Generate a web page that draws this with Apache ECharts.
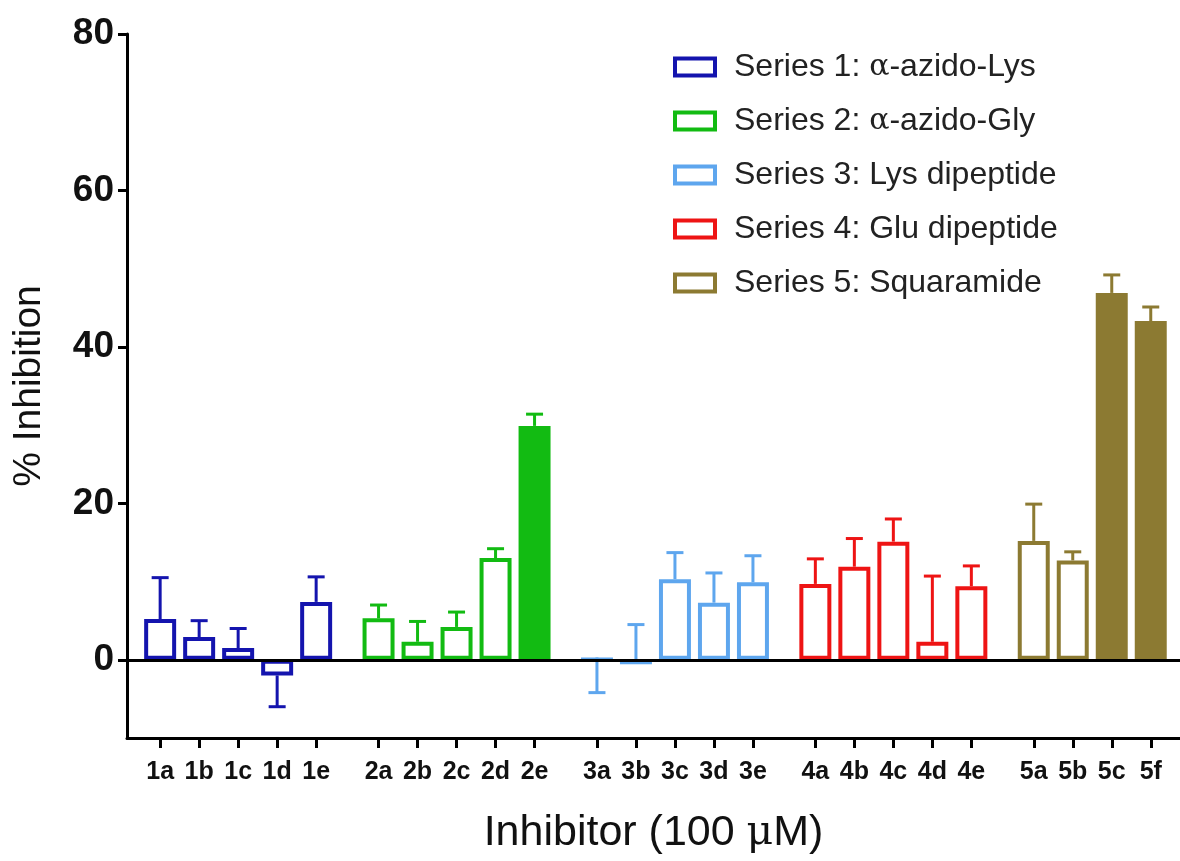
<!DOCTYPE html>
<html>
<head>
<meta charset="utf-8">
<script src="https://cdn.jsdelivr.net/npm/echarts@6/dist/echarts.min.js"></script>
<style>
    html, body {margin: 0; padding: 0; background: #fff;}
    #chart {width: 1180px; height: 861px;}
</style>
</head>
<body>
<div id="chart"></div>
<script>
// 数据
const seriesNames = ['Series 1: α-azido-Lys', 'Series 2: α-azido-Gly', 'Series 3: Lys dipeptide', 'Series 4: Glu dipeptide', 'Series 5: Squaramide'];
const labels = [
    ['1a', '1b', '1c', '1d', '1e'],
    ['2a', '2b', '2c', '2d', '2e'],
    ['3a', '3b', '3c', '3d', '3e'],
    ['4a', '4b', '4c', '4d', '4e'],
    ['5a', '5b', '5c', '5f']
];
const means = [
    [5.2, 2.9, 1.5, -2.0, 7.4],
    [5.3, 2.3, 4.2, 13.0, 29.9],
    [0.3, -0.3, 10.3, 7.3, 9.9],
    [9.7, 11.9, 15.1, 2.3, 9.4],
    [15.2, 12.7, 46.9, 43.3]
];
// 误差线端点
const errEnds = [
    [10.5, 5.0, 4.0, -6.0, 10.6],
    [7.0, 4.9, 6.1, 14.2, 31.4],
    [-4.2, 4.5, 13.7, 11.1, 13.3],
    [12.9, 15.5, 18.0, 10.7, 12.0],
    [19.9, 13.8, 49.2, 45.1]
];
const filled = [
    [0, 0, 0, 0, 0],
    [0, 0, 0, 0, 1],
    [0, 0, 0, 0, 0],
    [0, 0, 0, 0, 0],
    [0, 0, 1, 1]
];
const yTicks = [0, 20, 40, 60, 80];

const colors = ['#1414ae', '#12bb12', '#5ea6ee', '#ee1414', '#8c7a32'];
const groupStep = 5.6; // 组间距
const font = 'Liberation Sans, Arial, sans-serif';

let labelMap = {};
let xTicks = [];
labels.forEach((g, gi) => {
    g.forEach((name, i) => {
        let pos = gi * groupStep + i;
        labelMap[pos.toFixed(2)] = name;
        xTicks.push(pos);
    });
});

function renderBar(params, api) {
    let pos = api.value(0), val = api.value(1), err = api.value(2), fill = api.value(3);
    let color = api.visual('color');
    let c0 = api.coord([pos, 0]);
    let c1 = api.coord([pos, val]);
    let cE = api.coord([pos, err]);
    let half = api.size([0.41, 0])[0];
    let cap = 8.5;
    let children = [];
    // 误差线
    children.push({
        type: 'line',
        shape: {x1: c1[0], y1: c1[1], x2: cE[0], y2: cE[1]},
        style: {stroke: color, lineWidth: 3}
    });
    children.push({
        type: 'line',
        shape: {x1: cE[0] - cap, y1: cE[1], x2: cE[0] + cap, y2: cE[1]},
        style: {stroke: color, lineWidth: 3}
    });
    let top = Math.min(c0[1], c1[1]), bot = Math.max(c0[1], c1[1]);
    if (fill) {
        children.push({
            type: 'rect',
            shape: {x: c1[0] - half, y: top, width: half * 2, height: bot - top},
            style: {fill: color}
        });
    } else {
        let h = Math.max(bot - top - 4, 0.5);
        children.push({
            type: 'rect',
            shape: {x: c1[0] - half + 2, y: top + 2, width: half * 2 - 4, height: h},
            style: {fill: '#fff', stroke: color, lineWidth: 4}
        });
    }
    return {type: 'group', children: children};
}

let series = labels.map((g, gi) => {
    let data = g.map((name, i) => [gi * groupStep + i, means[gi][i], errEnds[gi][i], filled[gi][i]]);
    let s = {
        name: seriesNames[gi],
        type: 'custom',
        renderItem: renderBar,
        itemStyle: {color: colors[gi]},
        encode: {x: 0, y: [1, 2]},
        data: data,
        silent: true
    };
    if (gi === 0) {
        s.markLine = {
            silent: true,
            symbol: 'none',
            label: {show: false},
            lineStyle: {color: '#000', width: 3, type: 'solid'},
            data: [{yAxis: 0}],
            z: 10
        };
    }
    return s;
});

const chart = echarts.init(document.getElementById('chart'));
chart.setOption({
    animation: false,
    backgroundColor: '#fff',
    grid: {left: 127, right: 0, top: 34, bottom: 123},
    legend: {
        orient: 'vertical',
        left: 668,
        top: 44,
        itemWidth: 40,
        itemHeight: 17,
        itemGap: 18,
        selectedMode: false,
        data: seriesNames.map((n, i) => ({
            name: n,
            icon: 'rect',
            itemStyle: {color: '#fff', borderColor: colors[i], borderWidth: 4}
        })),
        formatter: (n) => n.replace('α', '{g|α}'),
        textStyle: {
            fontFamily: font,
            fontSize: 32,
            color: '#222',
            lineHeight: 36,
            padding: [0, 0, 0, 14],
            rich: {
                g: {fontFamily: 'DejaVu Serif, Liberation Serif, serif', fontSize: 30, color: '#222'}
            }
        }
    },
    xAxis: {
        type: 'value',
        min: -0.85,
        max: 26.15,
        splitLine: {show: false},
        axisLine: {onZero: false, lineStyle: {color: '#000', width: 3}},
        axisTick: {customValues: xTicks, length: 10, lineStyle: {color: '#000', width: 3}},
        axisLabel: {
            customValues: xTicks,
            formatter: (v) => labelMap[v.toFixed(2)] || '',
            fontFamily: font,
            fontWeight: 'bold',
            fontSize: 25,
            color: '#111',
            margin: 22
        },
        name: 'Inhibitor (100 {m|μ}M)',
        nameLocation: 'middle',
        nameGap: 74,
        nameTextStyle: {
            fontFamily: font,
            fontSize: 43,
            color: '#111',
            rich: {
                m: {fontFamily: 'DejaVu Serif, Liberation Serif, serif', fontSize: 41, color: '#111'}
            }
        }
    },
    yAxis: {
        type: 'value',
        min: -10,
        max: 80,
        splitLine: {show: false},
        axisLine: {onZero: false, lineStyle: {color: '#000', width: 3}},
        axisTick: {customValues: yTicks, length: 9, lineStyle: {color: '#000', width: 3}},
        axisLabel: {
            customValues: yTicks,
            fontFamily: font,
            fontWeight: 'bold',
            fontSize: 37,
            color: '#111',
            margin: 13
        },
        name: '% Inhibition',
        nameLocation: 'middle',
        nameGap: 78,
        nameRotate: 90,
        nameTextStyle: {
            fontFamily: font,
            fontSize: 39,
            color: '#111'
        }
    },
    series: series
});
</script>
</body>
</html>
